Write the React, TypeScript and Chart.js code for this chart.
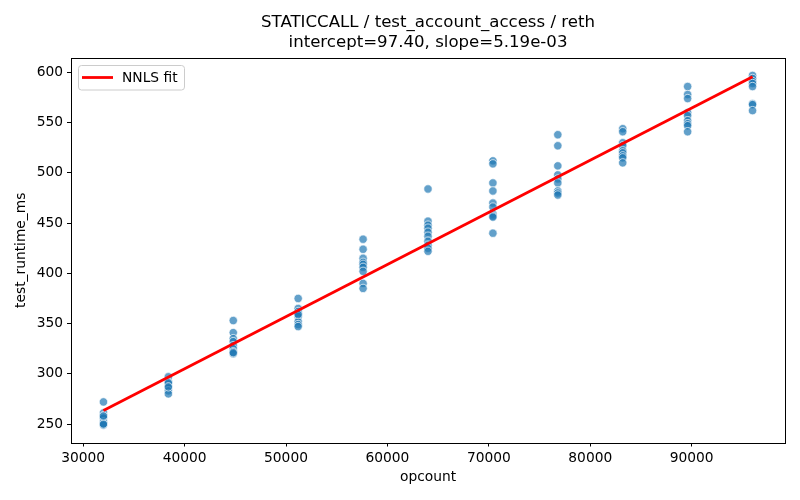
import React, { useEffect, useRef } from "react";
import { Chart, registerables } from "chart.js";

Chart.register(...registerables);

const opcounts = [32000, 38400, 44800, 51200, 57600, 64000, 70400, 76800, 83200, 89600, 96000];
const runtimes: number[][] = [
  [272, 261, 258, 257, 256, 252, 250, 249, 250, 258],
  [297, 292, 290, 291, 286, 283, 280, 287],
  [353, 341, 335, 332, 328, 325, 322, 320, 321],
  [375, 365, 362, 360, 357, 352, 349, 347, 359],
  [434, 424, 415, 411, 409, 406, 402, 390, 385],
  [484, 452, 448, 445, 441, 437, 432, 428, 425, 422],
  [512, 509, 490, 482, 470, 466, 459, 457, 456, 440],
  [538, 527, 507, 498, 494, 490, 482, 480, 478],
  [544, 541, 530, 527, 522, 520, 517, 515, 510],
  [586, 578, 574, 560, 557, 552, 549, 547, 541],
  [597, 594, 591, 589, 586, 569, 568, 562],
];
const intercept = 97.4;
const slope = 5.19e-3;
const xTicks = [30000, 40000, 50000, 60000, 70000, 80000, 90000];
const yTicks = [250, 300, 350, 400, 450, 500, 550, 600];
const titleLines = ["STATICCALL / test_account_access / reth", "intercept=97.40, slope=5.19e-03"];

const FONT = "'DejaVu Sans', sans-serif";

const decor = {
  id: "decor",
  afterDraw(chart: any) {
    const { ctx, chartArea } = chart;
    const { left, right, top, bottom } = chartArea;
    ctx.save();
    ctx.strokeStyle = "#000";
    ctx.lineWidth = 1;
    ctx.strokeRect(Math.round(left) + 0.5, Math.round(top) + 0.5, Math.round(right - left), Math.round(bottom - top));
    // title
    ctx.fillStyle = "#000";
    ctx.font = `16.6px ${FONT}`;
    ctx.textAlign = "center";
    ctx.textBaseline = "middle";
    const cx = (left + right) / 2;
    ctx.fillText(titleLines[0], cx, 23);
    ctx.fillText(titleLines[1], cx, 43);
    // legend
    const lx = 78.5, ly = 65.5, lw = 106, lh = 24.5;
    ctx.fillStyle = "rgba(255,255,255,0.8)";
    ctx.strokeStyle = "#cccccc";
    ctx.lineWidth = 1;
    ctx.beginPath();
    const r = 3;
    ctx.moveTo(lx + r, ly);
    ctx.lineTo(lx + lw - r, ly);
    ctx.quadraticCurveTo(lx + lw, ly, lx + lw, ly + r);
    ctx.lineTo(lx + lw, ly + lh - r);
    ctx.quadraticCurveTo(lx + lw, ly + lh, lx + lw - r, ly + lh);
    ctx.lineTo(lx + r, ly + lh);
    ctx.quadraticCurveTo(lx, ly + lh, lx, ly + lh - r);
    ctx.lineTo(lx, ly + r);
    ctx.quadraticCurveTo(lx, ly, lx + r, ly);
    ctx.closePath();
    ctx.fill();
    ctx.stroke();
    ctx.strokeStyle = "#ff0000";
    ctx.lineWidth = 2.8;
    ctx.beginPath();
    ctx.moveTo(82, 77.5);
    ctx.lineTo(113, 77.5);
    ctx.stroke();
    ctx.fillStyle = "#000";
    ctx.font = `13.8px ${FONT}`;
    ctx.textAlign = "left";
    ctx.fillText("NNLS fit", 122, 78);
    ctx.restore();
  },
};

export default function App() {
  const ref = useRef<HTMLCanvasElement>(null);
  useEffect(() => {
    document.body.style.margin = "0";
    const points: { x: number; y: number }[] = [];
    opcounts.forEach((x, i) => runtimes[i].forEach((y) => points.push({ x, y })));
    const xMin = opcounts[0];
    const xMax = opcounts[opcounts.length - 1];
    const fit = [
      { x: xMin, y: intercept + slope * xMin },
      { x: xMax, y: intercept + slope * xMax },
    ];
    const chart = new Chart(ref.current!, {
      type: "scatter",
      data: {
        datasets: [
          {
            label: "NNLS fit",
            type: "line",
            data: fit,
            borderColor: "#ff0000",
            borderWidth: 2.8,
            pointRadius: 0,
            order: 0,
          } as any,
          {
            label: "data",
            data: points,
            backgroundColor: "rgba(31,119,180,0.7)",
            borderColor: "rgba(255,255,255,0.9)",
            borderWidth: 0.75,
            pointRadius: 4.2,
            order: 1,
          },
        ],
      },
      options: {
        animation: false,
        responsive: false,
        devicePixelRatio: 1,
        layout: { padding: { left: 0, right: 15, top: 58, bottom: 0 } },
        plugins: { legend: { display: false }, title: { display: false }, tooltip: { enabled: false } },
        scales: {
          x: {
            type: "linear",
            min: 28800,
            max: 99200,
            afterBuildTicks: (axis: any) => {
              axis.ticks = xTicks.map((v) => ({ value: v }));
            },
            afterFit: (axis: any) => {
              axis.height = 57.5;
            },
            grid: { display: true, drawOnChartArea: false, drawTicks: true, tickLength: 4, color: "#000", tickWidth: 1 },
            border: { display: false },
            ticks: { color: "#000", font: { family: FONT, size: 13.8 }, padding: 4, maxRotation: 0, callback: (v: any) => String(v) },
            title: { display: true, text: "opcount", color: "#000", font: { family: FONT, size: 13.8 }, padding: { top: 0, bottom: 14 } },
          },
          y: {
            type: "linear",
            min: 231.6,
            max: 614.4,
            afterBuildTicks: (axis: any) => {
              axis.ticks = yTicks.map((v) => ({ value: v }));
            },
            afterFit: (axis: any) => {
              axis.width = 71;
            },
            grid: { display: true, drawOnChartArea: false, drawTicks: true, tickLength: 4, color: "#000", tickWidth: 1 },
            border: { display: false },
            ticks: { color: "#000", font: { family: FONT, size: 13.8 }, padding: 4, callback: (v: any) => String(v) },
            title: { display: true, text: "test_runtime_ms", color: "#000", font: { family: FONT, size: 13.8 }, padding: { top: 13, bottom: 0 } },
          },
        },
      },
      plugins: [decor],
    });
    return () => chart.destroy();
  }, []);
  return <canvas ref={ref} width={800} height={500} style={{ display: "block" }} />;
}
